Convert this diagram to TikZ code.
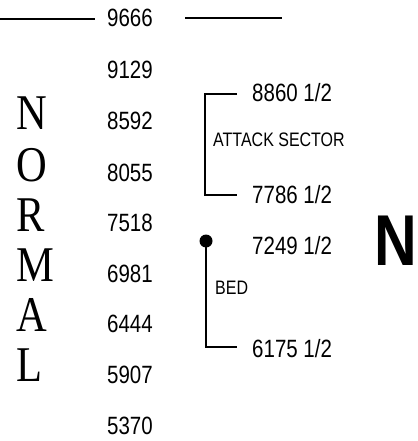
\documentclass[tikz,border=0pt]{standalone}
\usepackage{fontspec}
\setmainfont{Liberation Sans}
\newfontfamily\narrowsans[FakeStretch=0.82]{Liberation Sans}
\newfontfamily\narrowserif[FakeStretch=0.85]{Liberation Serif}
\begin{document}
\begin{tikzpicture}[x=1pt,y=-1pt,
  num/.style={anchor=base west,inner sep=0pt,font=\narrowsans\fontsize{25}{25}\selectfont},
  lab/.style={anchor=base west,inner sep=0pt,font=\narrowsans\fontsize{19.5}{20}\selectfont},
  letter/.style={anchor=base west,inner sep=0pt,font=\narrowserif\fontsize{50}{50}\selectfont},
  north/.style={anchor=base west,inner sep=0pt,font=\narrowsans\bfseries\fontsize{72}{72}\selectfont},
  rulething/.style={line width=1.5pt},
  dotnode/.style={circle,fill=black,inner sep=0pt,minimum size=13pt}]
\useasboundingbox (0,0) rectangle (417,441);
% scale numbers
\node[num] (n9666) at (107,27) {9666};
\node[num] (n9129) at (107,79) {9129};
\node[num] (n8592) at (107,129) {8592};
\node[num] (n8055) at (107,181) {8055};
\node[num] (n7518) at (107,231) {7518};
\node[num] (n6981) at (107,282) {6981};
\node[num] (n6444) at (107,332) {6444};
\node[num] (n5907) at (107,383) {5907};
\node[num] (n5370) at (107,434) {5370};
% top lines
\coordinate (tl0) at (0,19);
\coordinate (tl1) at (95,19);
\coordinate (tr0) at (185,18);
\coordinate (tr1) at (282,18);
\draw[rulething] (tl0) -- (tl1);
\draw[rulething] (tr0) -- (tr1);
% NORMAL
\node[letter] (lN) at (16,129.5) {N};
\node[letter] (lO) at (16,181) {O};
\node[letter] (lR) at (16,231.5) {R};
\node[letter] (lM) at (16,281.5) {M};
\node[letter] (lA) at (16,331.5) {A};
\node[letter] (lL) at (16,381.5) {L};
% attack sector
\node[num] (a8860) at (252,102) {8860 1/2};
\node[num] (a7786) at (252,203) {7786 1/2};
\node[lab] (attack) at (213,146) {ATTACK SECTOR};
\coordinate (at1) at (237,94);
\coordinate (at2) at (237,195);
\draw[rulething] (at1) -- (205,94) -- (205,195) -- (at2);
% bed
\node[num] (b7249) at (252,254) {7249 1/2};
\node[num] (b6175) at (252,357) {6175 1/2};
\node[lab] (bed) at (215,294) {BED};
\node[dotnode] (dot) at (206,241) {};
\coordinate (bt) at (237,347);
\draw[rulething] (dot.center) -- (206,347) -- (bt);
% north
\node[north] (bigN) at (374,265) {N};
\end{tikzpicture}
\end{document}
